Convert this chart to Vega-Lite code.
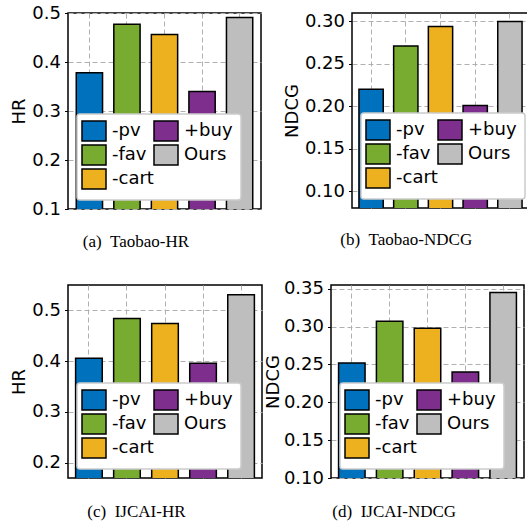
{
  "$schema": "https://vega.github.io/schema/vega-lite/v6.json",
  "padding": {"top": 3, "left": 10, "right": 0, "bottom": 0},
  "background": "white",
  "datasets": {
    "scores": [
      {"panel": "a", "method": "-pv", "value": 0.378},
      {"panel": "a", "method": "-fav", "value": 0.477},
      {"panel": "a", "method": "-cart", "value": 0.456},
      {"panel": "a", "method": "+buy", "value": 0.340},
      {"panel": "a", "method": "Ours", "value": 0.491},
      {"panel": "b", "method": "-pv", "value": 0.220},
      {"panel": "b", "method": "-fav", "value": 0.271},
      {"panel": "b", "method": "-cart", "value": 0.294},
      {"panel": "b", "method": "+buy", "value": 0.201},
      {"panel": "b", "method": "Ours", "value": 0.300},
      {"panel": "c", "method": "-pv", "value": 0.406},
      {"panel": "c", "method": "-fav", "value": 0.484},
      {"panel": "c", "method": "-cart", "value": 0.474},
      {"panel": "c", "method": "+buy", "value": 0.396},
      {"panel": "c", "method": "Ours", "value": 0.531},
      {"panel": "d", "method": "-pv", "value": 0.252},
      {"panel": "d", "method": "-fav", "value": 0.307},
      {"panel": "d", "method": "-cart", "value": 0.298},
      {"panel": "d", "method": "+buy", "value": 0.240},
      {"panel": "d", "method": "Ours", "value": 0.345}
    ]
  },
  "data": {"name": "scores"},
  "config": {
    "view": {"stroke": "black", "strokeWidth": 1.5},
    "font": "DejaVu Sans",
    "axis": {
      "labelFont": "DejaVu Sans",
      "labelFontSize": 18,
      "labelColor": "black",
      "titleFont": "DejaVu Sans",
      "titleFontSize": 18,
      "titleFontWeight": "normal",
      "titleColor": "black",
      "gridColor": "#b0b0b0",
      "gridDash": [5, 3],
      "gridWidth": 1,
      "gridOpacity": 1,
      "domain": false,
      "tickColor": "black",
      "tickSize": 3.5,
      "labelPadding": 4
    },
    "legend": {
      "orient": "bottom-left",
      "offset": 9,
      "columns": 2,
      "fillColor": "white",
      "strokeColor": "#cccccc",
      "strokeWidth": 1.5,
      "cornerRadius": 3,
      "padding": 8,
      "labelFont": "DejaVu Sans",
      "labelFontSize": 18,
      "labelColor": "black",
      "labelOffset": 9,
      "rowPadding": -2,
      "columnPadding": -3,
      "symbolType": "M-2.4,-2H2.4V2H-2.4Z",
      "symbolSize": 100,
      "symbolStrokeColor": "black",
      "symbolStrokeWidth": 1.5,
      "symbolOpacity": 1,
      "title": null
    },
    "title": {
      "orient": "bottom",
      "frame": "bounds",
      "anchor": "middle",
      "font": "Liberation Serif",
      "fontSize": 17,
      "fontWeight": "normal",
      "color": "black",
      "offset": 21
    }
  },
  "vconcat": [
    {
      "hconcat": [
        {
          "width": 193,
          "height": 196,
          "title": {"text": "(a)\u2002Taobao-HR", "offset": 16},
          "transform": [{"filter": "datum.panel === 'a'"}],
          "mark": {"type": "bar", "stroke": "black", "strokeWidth": 1.5, "clip": true},
          "encoding": {
            "x": {"field": "method", "type": "nominal", "sort": ["-pv", "-fav", "-cart", "+buy", "Ours"],
                  "scale": {"paddingInner": 0.3, "paddingOuter": 0.22},
                  "axis": {"labels": false, "ticks": false, "title": null, "grid": true, "bandPosition": 0.5}},
            "y": {"field": "value", "type": "quantitative",
                  "scale": {"domain": [0.1, 0.5], "nice": false, "zero": false},
                  "axis": {"title": "HR", "values": [0.1, 0.2, 0.3, 0.4, 0.5], "format": ".1f", "titlePadding": 3, "labelOverlap": false}},
            "color": {"field": "method", "type": "nominal",
                      "scale": {"domain": ["-pv", "-fav", "-cart", "+buy", "Ours"], "range": ["#0072BD", "#77AC30", "#EDB120", "#7E2F8E", "#BEBEBE"]},
                      "legend": {}}
          }
        },
        {
          "width": 177,
          "height": 195,
          "title": {"text": "(b)\u2002Taobao-NDCG", "offset": 24},
          "transform": [{"filter": "datum.panel === 'b'"}],
          "mark": {"type": "bar", "stroke": "black", "strokeWidth": 1.5, "clip": true},
          "encoding": {
            "x": {"field": "method", "type": "nominal", "sort": ["-pv", "-fav", "-cart", "+buy", "Ours"],
                  "scale": {"paddingInner": 0.3, "paddingOuter": 0.2},
                  "axis": {"labels": false, "ticks": false, "title": null, "grid": true, "bandPosition": 0.5}},
            "y": {"field": "value", "type": "quantitative",
                  "scale": {"domain": [0.08, 0.31], "nice": false, "zero": false},
                  "axis": {"title": "NDCG", "values": [0.10, 0.15, 0.20, 0.25, 0.30], "format": ".2f", "titlePadding": 3, "labelOverlap": false}},
            "color": {"field": "method", "type": "nominal",
                      "scale": {"domain": ["-pv", "-fav", "-cart", "+buy", "Ours"], "range": ["#0072BD", "#77AC30", "#EDB120", "#7E2F8E", "#BEBEBE"]},
                      "legend": {}}
          }
        }
      ],
      "spacing": 20,
      "resolve": {"scale": {"color": "independent"}, "legend": {"color": "independent"}}
    },
    {
      "hconcat": [
        {
          "width": 194,
          "height": 193,
          "title": {"text": "(c)\u2002IJCAI-HR", "offset": 26},
          "transform": [{"filter": "datum.panel === 'c'"}],
          "mark": {"type": "bar", "stroke": "black", "strokeWidth": 1.5, "clip": true},
          "encoding": {
            "x": {"field": "method", "type": "nominal", "sort": ["-pv", "-fav", "-cart", "+buy", "Ours"],
                  "scale": {"paddingInner": 0.3, "paddingOuter": 0.2},
                  "axis": {"labels": false, "ticks": false, "title": null, "grid": true, "bandPosition": 0.5}},
            "y": {"field": "value", "type": "quantitative",
                  "scale": {"domain": [0.17, 0.55], "nice": false, "zero": false},
                  "axis": {"title": "HR", "values": [0.2, 0.3, 0.4, 0.5], "format": ".1f", "titlePadding": 3, "labelOverlap": false}},
            "color": {"field": "method", "type": "nominal",
                      "scale": {"domain": ["-pv", "-fav", "-cart", "+buy", "Ours"], "range": ["#0072BD", "#77AC30", "#EDB120", "#7E2F8E", "#BEBEBE"]},
                      "legend": {}}
          }
        },
        {
          "width": 193,
          "height": 193,
          "title": {"text": "(d)\u2002IJCAI-NDCG", "offset": 17},
          "transform": [{"filter": "datum.panel === 'd'"}],
          "mark": {"type": "bar", "stroke": "black", "strokeWidth": 1.5, "clip": true},
          "encoding": {
            "x": {"field": "method", "type": "nominal", "sort": ["-pv", "-fav", "-cart", "+buy", "Ours"],
                  "scale": {"paddingInner": 0.3, "paddingOuter": 0.2},
                  "axis": {"labels": false, "ticks": false, "title": null, "grid": true, "bandPosition": 0.5}},
            "y": {"field": "value", "type": "quantitative",
                  "scale": {"domain": [0.10, 0.355], "nice": false, "zero": false},
                  "axis": {"title": "NDCG", "values": [0.10, 0.15, 0.20, 0.25, 0.30, 0.35], "format": ".2f", "titlePadding": 1, "labelOverlap": false}},
            "color": {"field": "method", "type": "nominal",
                      "scale": {"domain": ["-pv", "-fav", "-cart", "+buy", "Ours"], "range": ["#0072BD", "#77AC30", "#EDB120", "#7E2F8E", "#BEBEBE"]},
                      "legend": {}}
          }
        }
      ],
      "spacing": 0,
      "resolve": {"scale": {"color": "independent"}, "legend": {"color": "independent"}}
    }
  ],
  "spacing": 28,
  "resolve": {"scale": {"color": "independent"}, "legend": {"color": "independent"}}
}
